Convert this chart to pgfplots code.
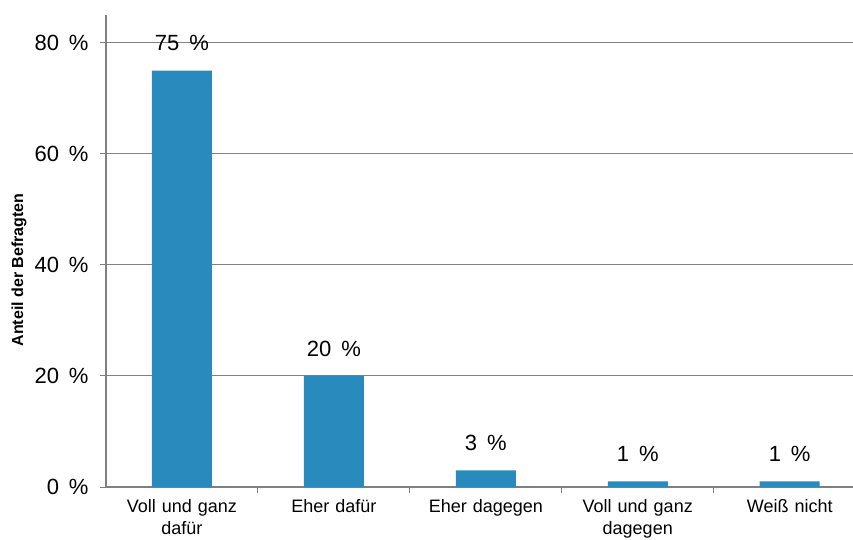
\documentclass[border=0pt]{standalone}
\usepackage{pgfplots}
\pgfplotsset{compat=1.18}
\usepackage{fontspec}
\setmainfont{Liberation Sans}
\definecolor{barblue}{RGB}{41,139,189}
\definecolor{gridgray}{RGB}{128,128,128}
\begin{document}
\begin{tikzpicture}
\begin{axis}[
  scale only axis, width=749pt, height=472pt,
  xmin=-0.5, xmax=4.43, ymin=0, ymax=85,
  axis lines*=left,
  axis line style={gridgray, line width=1.2pt},
  xtick={0,1,2,3,4},
  xticklabels={Voll und ganz\\dafür, Eher dafür, Eher dagegen, Voll und ganz\\dagegen, Weiß nicht},
  x tick label style={align=center, font=\fontsize{18}{22}\selectfont, text width=140pt, yshift=-3pt},
  x tick style={draw=none},
  extra x ticks={0.5,1.5,2.5,3.5},
  extra x tick labels={},
  extra x tick style={x tick style={draw=gridgray, line width=1pt}, grid=none},
  ytick={0,20,40,60,80},
  yticklabels={0\hspace{0.45em}\%, 20\hspace{0.45em}\%, 40\hspace{0.45em}\%, 60\hspace{0.45em}\%, 80\hspace{0.45em}\%},
  y tick label style={font=\fontsize{22}{26}\selectfont, xshift=-8pt},
  y tick style={draw=gridgray, line width=1pt},
  tick align=outside, major tick length=6pt,
  ymajorgrids, grid style={gridgray, line width=1pt},
  ylabel={\bfseries Anteil der Befragten},
  ylabel style={at={(axis description cs:-0.116,0.46)}, anchor=center, font=\fontsize{16}{18}\selectfont},
  /pgf/number format/assume math mode=true,
]
\addplot[ybar, bar width=60pt, fill=barblue, draw=none,
  nodes near coords={\pgfmathprintnumber{\pgfplotspointmeta}\hspace{0.45em}\%},
  nodes near coords style={font=\fontsize{22}{26}\selectfont, yshift=16pt, text=black}]
  coordinates {(0,75) (1,20) (2,3) (3,1) (4,1)};
\coordinate (ll) at (rel axis cs:0,0);
\end{axis}
\pgfresetboundingbox
\path (ll) ++(-106pt,-52pt) rectangle ++(853pt,539pt);
\end{tikzpicture}
\end{document}
